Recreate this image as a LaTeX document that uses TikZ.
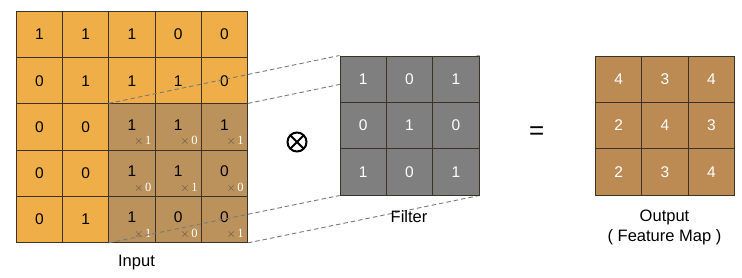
\documentclass[tikz,border=0pt]{standalone}
\usepackage{fontspec}
\setmainfont{Liberation Sans}
\newfontfamily\serifdig{Liberation Serif}
\pgfdeclarelayer{bottomlayer}
\pgfdeclarelayer{toplayer}
\pgfsetlayers{bottomlayer,main,toplayer}
\definecolor{inorange}{HTML}{EFAE47}
\definecolor{indark}{HTML}{BB925C}
\definecolor{filtergray}{HTML}{7F7F7F}
\definecolor{outbrown}{HTML}{BC8B54}
\definecolor{gridline}{HTML}{3A3326}
\definecolor{dashgray}{HTML}{7A7A7A}
\definecolor{multgray}{HTML}{5A5048}
\tikzset{
  cellbase/.style={draw=gridline, line width=0.8pt, minimum size=46.3pt, inner sep=0pt, anchor=north west, font=\fontsize{15.5}{18}\selectfont},
  incell/.style={cellbase, fill=inorange, text=black},
  indarkcell/.style={cellbase, fill=indark, text=black},
  fcell/.style={cellbase, fill=filtergray, text=white, minimum size=46.4pt},
  ocell/.style={cellbase, fill=outbrown, text=white, minimum size=46.4pt},
  mult/.style={anchor=south east, inner sep=0pt, xshift=-4pt, yshift=4.5pt, font=\fontsize{12.5}{14}\selectfont},
  caption/.style={font=\fontsize{16.5}{20}\selectfont, text=black, align=center},
  conn/.style={draw=dashgray, dashed, dash pattern=on 4.5pt off 3pt, line width=0.9pt},
}
\newcommand{\multtxt}[1]{\textcolor{multgray}{$\times$}\hspace{1.5pt}\textcolor{white}{\serifdig #1}}
\begin{document}
\begin{tikzpicture}[x=1pt,y=-1pt]
\useasboundingbox (0,0) rectangle (742,277);
% ---------- Input ----------
\begin{pgfonlayer}{bottomlayer}
\def\cs{46.2}
\foreach \r/\row in {1/{1,1,1,0,0},2/{0,1,1,1,0},3/{0,0,1,1,1},4/{0,0,1,1,0},5/{0,1,1,0,0}}{
  \foreach \v [count=\c] in \row {
    \pgfmathsetmacro{\xx}{16+(\c-1)*\cs}
    \pgfmathsetmacro{\yy}{11+(\r-1)*\cs}
    \pgfmathtruncatemacro{\dark}{(\r>2)&&(\c>2)}
    \ifnum\dark=1
      \node[indarkcell] (i-\r-\c) at (\xx,\yy) {\raisebox{4pt}{\v}};
    \else
      \node[incell] (i-\r-\c) at (\xx,\yy) {\v};
    \fi
  }
}
\foreach \r/\c/\k in {3/3/1,3/4/0,3/5/1,4/3/0,4/4/1,4/5/0,5/3/1,5/4/0,5/5/1}{
  \node[mult] (m-\r-\c) at (i-\r-\c.south east) {\multtxt{\k}};
}
\end{pgfonlayer}
% ---------- Filter ----------
\begin{pgfonlayer}{toplayer}
\foreach \r/\row in {1/{1,0,1},2/{0,1,0},3/{1,0,1}}{
  \foreach \v [count=\c] in \row {
    \pgfmathsetmacro{\xx}{339.5+(\c-1)*46.4}
    \pgfmathsetmacro{\yy}{55.5+(\r-1)*46.4}
    \node[fcell] (f-\r-\c) at (\xx,\yy) {\v};
  }
}
\end{pgfonlayer}
% ---------- Output ----------
\foreach \r/\row in {1/{4,3,4},2/{2,4,3},3/{2,3,4}}{
  \foreach \v [count=\c] in \row {
    \pgfmathsetmacro{\xx}{595+(\c-1)*46.4}
    \pgfmathsetmacro{\yy}{55.5+(\r-1)*46.4}
    \node[ocell] (o-\r-\c) at (\xx,\yy) {\v};
  }
}
% ---------- connectors ----------
\draw[conn] (i-3-3.north west) -- (f-1-1.north west);
\draw[conn] (i-3-5.north east) -- (f-1-3.north east);
\draw[conn] (i-5-3.south west) -- (f-3-1.south west);
\draw[conn] (i-5-5.south east) -- (f-3-3.south east);
% ---------- operators ----------
\node[circle, draw=black, line width=2pt, minimum size=19pt, inner sep=0pt,
  path picture={\draw[line width=2pt] (path picture bounding box.north west) -- (path picture bounding box.south east)
  (path picture bounding box.north east) -- (path picture bounding box.south west);}] (otimes) at (297,142) {};
\node[font=\fontsize{26}{28}\selectfont, inner sep=0pt] (eq) at (536.7,133.5) {=};
% ---------- captions ----------
\node[caption] (inlab) at (136.5,262.5) {Input};
\node[caption] (flab) at (409,216.5) {Filter};
\node[caption] (olab) at (664.5,227) {Output\\( Feature Map )};
\end{tikzpicture}
\end{document}
